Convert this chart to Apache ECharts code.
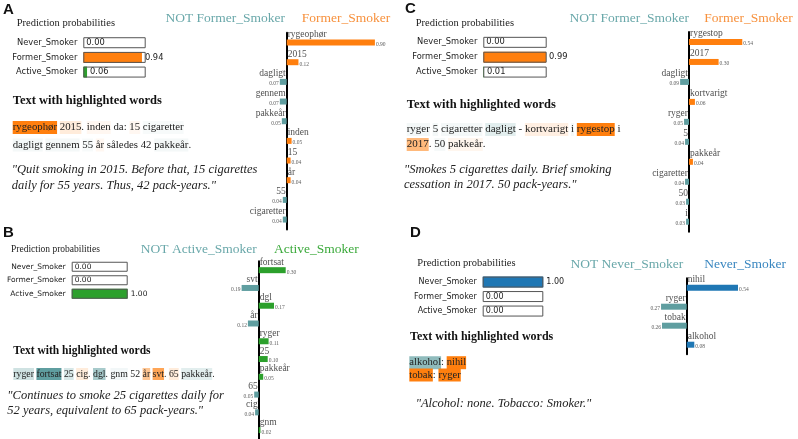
<!DOCTYPE html>
<html>
<head>
<meta charset="utf-8">
<script src="https://cdn.jsdelivr.net/npm/echarts@6/dist/echarts.min.js"></script>
<style>
html, body { margin: 0; padding: 0; background: #fff; }
#main { width: 798px; height: 439px; }
</style>
</head>
<body>
<div id="main"></div>
<script>
// ---- data ----
const classNames = ['Never_Smoker', 'Former_Smoker', 'Active_Smoker'];
const probA = [0.00, 0.94, 0.06];
const probB = [0.00, 0.00, 1.00];
const probC = [0.00, 0.99, 0.01];
const probD = [1.00, 0.00, 0.00];

const featA = ['rygeophør', '2015', 'dagligt', 'gennem', 'pakkeår', 'inden', '15', 'år', '55', 'cigaretter'];
const weightA = [0.90, 0.12, -0.07, -0.07, -0.05, 0.05, 0.04, 0.04, -0.04, -0.04];
const featB = ['fortsat', 'svt', 'dgl', 'år', 'ryger', '25', 'pakkeår', '65', 'cig', 'gnm'];
const weightB = [0.30, -0.19, 0.17, -0.12, 0.11, 0.10, 0.05, -0.05, -0.04, 0.02];
const featC = ['rygestop', '2017', 'dagligt', 'kortvarigt', 'ryger', '5', 'pakkeår', 'cigaretter', '50', 'i'];
const weightC = [0.54, 0.30, -0.09, 0.06, -0.05, -0.04, 0.04, -0.04, -0.03, -0.03];
const featD = ['nihil', 'ryger', 'tobak', 'alkohol'];
const weightD = [0.54, -0.27, -0.26, 0.08];

const classColors = ['#1f77b4', '#ff7f0e', '#2ca02c'];
const notColor = '#5f9ea0';
const serif = 'Liberation Serif';

const chart = echarts.init(document.getElementById('main'));
const grids = [], xAxes = [], yAxes = [], series = [], graphics = [];

function addProb(probs, g, font) {
  const idx = grids.length;
  grids.push({ left: g.left, top: g.top, width: g.width, height: g.height });
  xAxes.push({ type: 'value', gridIndex: idx, min: 0, max: 1, show: false });
  yAxes.push({
    type: 'category', gridIndex: idx, inverse: true, data: classNames,
    axisLine: { show: false }, axisTick: { show: false }, splitLine: { show: false },
    axisLabel: { margin: 6, fontFamily: 'DejaVu Sans', fontSize: font, color: '#222' }
  });
  series.push({
    type: 'bar', xAxisIndex: idx, yAxisIndex: idx, barWidth: g.bar, barGap: '-100%',
    data: probs.map((p, i) => ({ value: p, itemStyle: { color: classColors[i] } })),
    label: {
      show: true, position: 'right', distance: 3, fontFamily: 'DejaVu Sans',
      fontSize: font, color: '#222', formatter: p => p.value.toFixed(2)
    }
  });
  // outline boxes
  series.push({
    type: 'bar', xAxisIndex: idx, yAxisIndex: idx, barWidth: g.bar, barGap: '-100%', z: 3,
    data: probs.map(() => 1),
    itemStyle: { color: 'rgba(0,0,0,0)', borderColor: '#555', borderWidth: 1 }
  });
}

function addFeat(feats, weights, posColor, g) {
  const idx = grids.length;
  grids.push({ left: g.left, top: g.top, width: g.width, height: g.height });
  xAxes.push({ type: 'value', gridIndex: idx, min: -1, max: 1, show: false });
  yAxes.push({
    type: 'category', gridIndex: idx, inverse: true, data: feats,
    axisLine: { show: true, onZero: true, lineStyle: { color: '#000', width: 2 } },
    axisTick: { show: false }, axisLabel: { show: false }, splitLine: { show: false }
  });
  series.push({
    type: 'bar', xAxisIndex: idx, yAxisIndex: idx, barWidth: 6,
    data: weights.map(w => ({ value: w, itemStyle: { color: w >= 0 ? posColor : notColor } }))
  });
  // feature names
  series.push({
    type: 'scatter', xAxisIndex: idx, yAxisIndex: idx, symbolSize: 0,
    data: feats.map((f, i) => ({ value: [0, f], label: { position: weights[i] >= 0 ? 'right' : 'left' } })),
    label: {
      show: true, distance: 1, offset: [0, -8], fontFamily: serif, fontSize: 9.5, color: '#222',
      formatter: p => p.value[1]
    }
  });
  // weight values
  series.push({
    type: 'scatter', xAxisIndex: idx, yAxisIndex: idx, symbolSize: 0,
    data: feats.map((f, i) => ({ value: [weights[i], f], label: { position: weights[i] >= 0 ? 'right' : 'left' } })),
    label: {
      show: true, distance: 1, offset: [0, 2], fontFamily: serif, fontSize: 5.5, color: '#333',
      formatter: p => Math.abs(p.value[0]).toFixed(2)
    }
  });
}

function txt(x, y, text, opts) {
  graphics.push({
    type: 'text', x: x, y: y, silent: true,
    style: Object.assign({
      text: text, fill: '#222', fontFamily: serif, fontSize: 10,
      align: 'left', verticalAlign: 'middle', textAlign: 'left', textVerticalAlign: 'middle'
    }, opts || {})
  });
}

function hl(x, y, text, bgs, size) {
  const rich = {};
  Object.keys(bgs).forEach(k => {
    rich[k] = { backgroundColor: bgs[k], fontFamily: serif, fontSize: size, color: '#222', padding: [1, 0], lineHeight: size + 2 };
  });
  txt(x, y, text, { fontSize: size, rich: rich });
}

const oc = a => 'rgba(255,127,14,' + a + ')';
const tc = a => 'rgba(95,158,160,' + a + ')';

// ---- panel A ----
txt(3, 10, 'A', { fontFamily: 'Liberation Sans', fontWeight: 'bold', fontSize: 15, fill: '#111' });
txt(16.7, 23, 'Prediction probabilities', { fontSize: 10.5 });
addProb(probA, { left: 83.3, top: 35.4, width: 62.4, height: 44, bar: 11 }, 8.3);
txt(12.7, 101, 'Text with highlighted words', { fontSize: 12.5, fontWeight: 'bold', fill: '#111' });
hl(12.7, 127.5, '{a|rygeophør} {b|2015}. {c|inden} da: {c|15} {d|cigaretter}',
  { a: '#ff7f0e', b: oc(0.15), c: oc(0.06), d: tc(0.05) }, 10.8);
hl(12.7, 145, '{d|dagligt} {d|gennem} {e|55} {c|år} således 42 {d|pakkeår}.',
  { c: oc(0.06), d: tc(0.07), e: tc(0.05) }, 10.8);
txt(11.7, 170, '"Quit smoking in 2015. Before that, 15 cigarettes', { fontSize: 12.5, fontStyle: 'italic' });
txt(11.7, 186, 'daily for 55 years. Thus, 42 pack-years."', { fontSize: 12.5, fontStyle: 'italic' });
txt(285, 18, 'NOT Former_Smoker', { fontSize: 13.5, fill: '#6aa8aa', align: 'right', textAlign: 'right' });
txt(301.7, 18, 'Former_Smoker', { fontSize: 13.5, fill: '#f7913d' });
addFeat(featA, weightA, classColors[1], { left: 188.7, top: 32.7, width: 196, height: 196.7 });

// ---- panel B ----
txt(3, 233, 'B', { fontFamily: 'Liberation Sans', fontWeight: 'bold', fontSize: 15, fill: '#111' });
txt(11, 249, 'Prediction probabilities', { fontSize: 9.5 });
addProb(probB, { left: 71.7, top: 260, width: 56, height: 40.5, bar: 10 }, 7.5);
txt(13.3, 351, 'Text with highlighted words', { fontSize: 11.5, fontWeight: 'bold', fill: '#111' });
hl(13.3, 374, '{a|ryger} {b|fortsat} {c|25} {d|cig}. {e|dgl}. {f|gnm} 52 {g|år} {h|svt}. {d|65} {i|pakkeår}.',
  { a: tc(0.3), b: tc(1), c: tc(0.25), d: oc(0.15), e: tc(0.55), f: tc(0.08), g: oc(0.45), h: oc(0.7), i: tc(0.18) }, 9.8);
txt(7.3, 396, '"Continues to smoke 25 cigarettes daily for', { fontSize: 12.5, fontStyle: 'italic' });
txt(7.3, 411, '52 years, equivalent to 65 pack-years."', { fontSize: 12.5, fontStyle: 'italic' });
txt(256.7, 249, 'NOT Active_Smoker', { fontSize: 13.5, fill: '#6aa8aa', align: 'right', textAlign: 'right' });
txt(274, 249, 'Active_Smoker', { fontSize: 13.5, fill: '#3caa3c' });
addFeat(featB, weightB, classColors[2], { left: 168.7, top: 261.3, width: 180, height: 180 });

// ---- panel C ----
txt(405, 9, 'C', { fontFamily: 'Liberation Sans', fontWeight: 'bold', fontSize: 15, fill: '#111' });
txt(415.7, 23, 'Prediction probabilities', { fontSize: 10.5 });
addProb(probC, { left: 483.3, top: 34.9, width: 63.4, height: 44.6, bar: 11 }, 8.3);
txt(406.7, 104.5, 'Text with highlighted words', { fontSize: 12.5, fontWeight: 'bold', fill: '#111' });
hl(406.7, 129.5, '{a|ryger} {a|5} {a|cigaretter} {b|dagligt} - {c|kortvarigt} {a|i} {d|rygestop} i',
  { a: tc(0.07), b: tc(0.18), c: oc(0.12), d: '#ff7f0e' }, 11);
hl(406.7, 144.5, '{e|2017}. {a|50} {f|pakkeår}.',
  { a: tc(0.06), e: oc(0.55), f: oc(0.07) }, 11);
txt(404, 170, '"Smokes 5 cigarettes daily. Brief smoking', { fontSize: 12.5, fontStyle: 'italic' });
txt(404, 185, 'cessation in 2017. 50 pack-years."', { fontSize: 12.5, fontStyle: 'italic' });
txt(689, 18, 'NOT Former_Smoker', { fontSize: 13.5, fill: '#6aa8aa', align: 'right', textAlign: 'right' });
txt(704.3, 18, 'Former_Smoker', { fontSize: 13.5, fill: '#f7913d' });
addFeat(featC, weightC, classColors[1], { left: 590.3, top: 32, width: 197.4, height: 199.7 });

// ---- panel D ----
txt(410, 233, 'D', { fontFamily: 'Liberation Sans', fontWeight: 'bold', fontSize: 15, fill: '#111' });
txt(417.3, 263.3, 'Prediction probabilities', { fontSize: 10.5 });
addProb(probD, { left: 482.7, top: 274.8, width: 60.6, height: 43.5, bar: 11 }, 8);
txt(410, 337, 'Text with highlighted words', { fontSize: 12, fontWeight: 'bold', fill: '#111' });
hl(409.3, 362.7, '{a|alkohol}: {b|nihil}', { a: tc(0.7), b: '#ff7f0e' }, 10.6);
hl(409.3, 375, '{b|tobak}: {b|ryger}', { b: '#ff7f0e' }, 10.6);
txt(415.7, 404, '"Alcohol: none. Tobacco: Smoker."', { fontSize: 12.5, fontStyle: 'italic' });
txt(683.3, 264.3, 'NOT Never_Smoker', { fontSize: 13.5, fill: '#6aa8aa', align: 'right', textAlign: 'right' });
txt(704.3, 264.3, 'Never_Smoker', { fontSize: 13.5, fill: '#3a87c0' });
addFeat(featD, weightD, classColors[0], { left: 591.7, top: 278.2, width: 190, height: 76 });

chart.setOption({
  animation: false,
  grid: grids,
  xAxis: xAxes,
  yAxis: yAxes,
  series: series.map(s => Object.assign({ silent: true }, s)),
  graphic: graphics
});
</script>
</body>
</html>
